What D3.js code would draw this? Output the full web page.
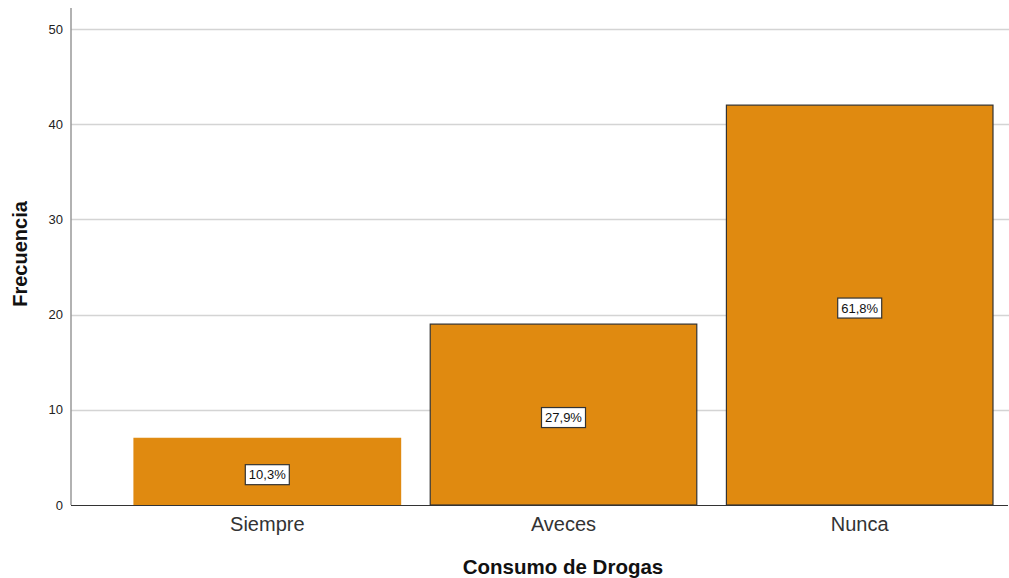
<!DOCTYPE html>
<html><head><meta charset="utf-8">
<script src="https://cdn.jsdelivr.net/npm/d3@7"></script>
<style>body{margin:0;background:#fff}svg{display:block;font-family:"Liberation Sans",Arial,sans-serif}</style>
</head><body><svg id="c" width="1009" height="578"></svg>
<script>
const categories = ["Siempre", "Aveces", "Nunca"];
const frequencies = [7, 19, 42];
const percentLabels = ["10,3%", "27,9%", "61,8%"];
const yTicks = [0, 10, 20, 30, 40, 50];

const svg = d3.select("#c");
const x0 = 71, xEnd = 1009, yBase = 505, yTop = 8;
const y = d3.scaleLinear().domain([0, 52.2]).range([yBase, yTop]);
const x = d3.scaleBand().domain(categories).range([119.2, 1007.8]).paddingInner(0.1).paddingOuter(0.05);

// gridlines
svg.append("g").selectAll("line").data(yTicks.filter(d => d > 0)).join("line")
  .attr("x1", x0).attr("x2", xEnd).attr("y1", d => Math.round(y(d)) + 0.5).attr("y2", d => Math.round(y(d)) + 0.5)
  .attr("stroke", "#d4d4d4").attr("stroke-width", 1.5);

// y axis
const yAxis = d3.axisLeft(y).tickValues(yTicks).tickSize(0).tickPadding(8);
const ga = svg.append("g").attr("transform", `translate(${x0},0)`).call(yAxis);
ga.select(".domain").remove();
ga.selectAll("text").attr("font-size", 13).attr("fill", "#222").attr("font-family", "Liberation Sans, Arial, sans-serif");
svg.append("line").attr("x1", x0).attr("x2", x0).attr("y1", yTop).attr("y2", yBase)
  .attr("stroke", "#999").attr("stroke-width", 1.5);

// bars
const data = categories.map((c, i) => ({c, v: frequencies[i], p: percentLabels[i], i}));
svg.append("g").selectAll("rect").data(data).join("rect")
  .attr("x", d => x(d.c)).attr("y", d => y(d.v))
  .attr("width", x.bandwidth()).attr("height", d => y(0) - y(d.v))
  .attr("fill", "#e08a10")
  .attr("stroke", d => d.i === 0 ? "#e08a10" : "#333").attr("stroke-width", 1.2);

// baseline
svg.append("line").attr("x1", x0).attr("x2", 1008).attr("y1", yBase + 0.5).attr("y2", yBase + 0.5)
  .attr("stroke", "#333").attr("stroke-width", 1.2);

// x axis labels
const xAxis = d3.axisBottom(x).tickSize(0).tickPadding(12);
const gx = svg.append("g").attr("transform", `translate(0,${yBase})`).call(xAxis);
gx.select(".domain").remove();
gx.selectAll("text").attr("font-size", 20).attr("fill", "#333").attr("font-family", "Liberation Sans, Arial, sans-serif");

// value labels
const lbl = svg.append("g").selectAll("g").data(data).join("g")
  .attr("transform", d => `translate(${x(d.c) + x.bandwidth() / 2},${(y(d.v) + y(0)) / 2 + 3})`);
lbl.append("rect").attr("x", -22).attr("y", -10).attr("width", 44).attr("height", 20)
  .attr("fill", "#fff").attr("stroke", "#333").attr("stroke-width", 1.2);
lbl.append("text").attr("text-anchor", "middle").attr("dy", "0.36em").attr("font-size", 13).attr("fill", "#111")
  .text(d => d.p);

// axis titles
svg.append("text").attr("x", 563).attr("y", 574).attr("text-anchor", "middle")
  .attr("font-size", 20.5).attr("font-weight", "bold").attr("fill", "#111").text("Consumo de Drogas");
svg.append("text").attr("transform", "translate(27,254) rotate(-90)").attr("text-anchor", "middle")
  .attr("font-size", 20).attr("font-weight", "bold").attr("fill", "#111").text("Frecuencia");
</script></body></html>
